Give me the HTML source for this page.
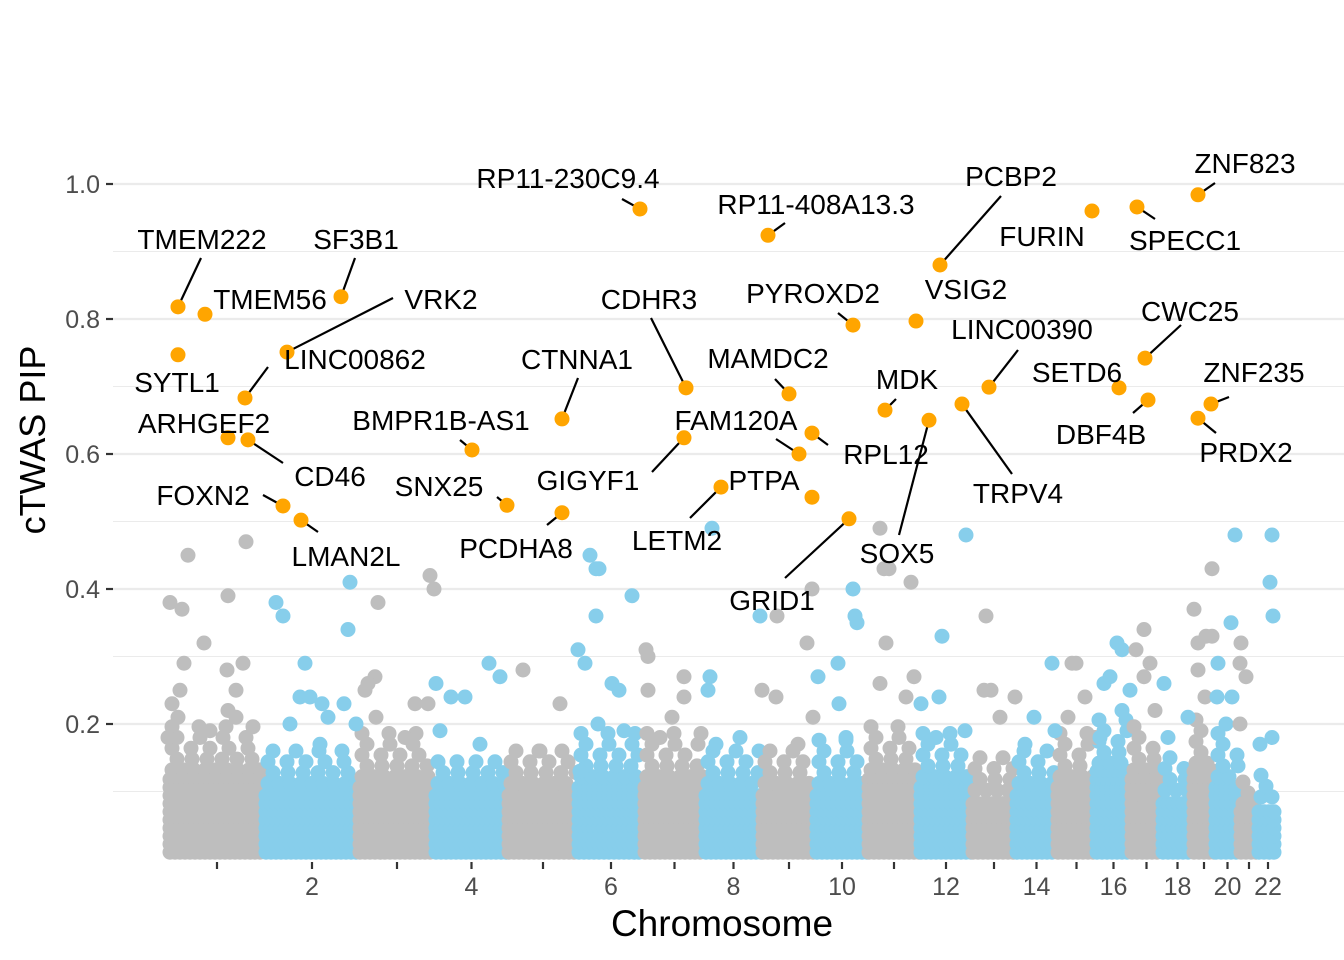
<!DOCTYPE html>
<html><head><meta charset="utf-8"><style>
html,body{margin:0;padding:0;background:#fff;}
svg{display:block;font-family:"Liberation Sans",Arial,sans-serif;}
</style></head><body>
<svg id="chart" width="1344" height="960" viewBox="0 0 1344 960" xmlns="http://www.w3.org/2000/svg">
<g id="grid"></g>
<g id="band"></g>
<g id="scatter"></g>
<g id="lines"></g>
<g id="hits"></g>
<g id="labels"></g>
<g id="axes"></g>
<text transform="translate(45,440) rotate(-90)" text-anchor="middle" font-size="36" fill="#000">cTWAS PIP</text>
<text x="722" y="936" text-anchor="middle" font-size="37" fill="#000">Chromosome</text>
</svg>
<script>
// chromosome starts in genome-index units (cumulative position)
const chrStarts = [0,96,190,266,339,409,475,536,593,647,699,751,803,847,888,927,962,993,1024,1046,1071,1089];
const genomeEnd = 1109;
const chrLabels = ["","2","","4","","6","","8","","10","","12","","14","","16","","18","","20","","22"];
// dense band upper PIP per chromosome
const bandTop = [0.12,0.10,0.11,0.10,0.10,0.11,0.11,0.10,0.10,0.10,0.12,0.11,0.09,0.10,0.11,0.13,0.12,0.09,0.13,0.11,0.07,0.08];
// sparser fringe upper PIP per chromosome
const fringeTop = [0.2,0.17,0.19,0.16,0.17,0.19,0.19,0.17,0.17,0.18,0.2,0.19,0.16,0.17,0.19,0.21,0.2,0.16,0.21,0.19,0.12,0.13];
// scattered background points
const bgPos = [1,13,19,3,11,15,9,35,59,58,74,67,77,59,67,41,-1,
107,114,136,131,141,153,159,175,181,179,187,121,151,
209,206,199,207,196,236,261,265,246,259,
267,282,296,320,331,311,271,
354,391,371,
421,430,427,427,463,409,416,443,450,429,455,411,
477,479,479,515,515,491,503,
543,541,539,571,547,591,593,
608,607,638,643,644,629,
669,684,686,688,649,670,677,
711,715,720,742,717,711,745,737,
797,773,770,752,767,796,
817,815,822,831,846,
883,865,886,856,
903,907,899,916,926,
948,953,935,941,953,931,
975,967,981,975,961,986,
995,1019,999,
1025,1043,1029,1037,1043,1029,1036,
1066,1062,1049,1048,1063,1057,1071,
1071,1077,1072,
1103,1101,1104,1103,1091];
const bgPip = [0.38,0.37,0.45,0.23,0.25,0.29,0.21,0.32,0.39,0.28,0.29,0.25,0.47,0.22,0.21,0.19,0.18,
0.38,0.36,0.29,0.24,0.24,0.23,0.21,0.23,0.41,0.34,0.20,0.20,0.17,
0.38,0.27,0.26,0.21,0.25,0.18,0.42,0.40,0.23,0.23,
0.26,0.24,0.24,0.29,0.27,0.17,0.19,
0.28,0.23,0.16,
0.45,0.43,0.43,0.36,0.39,0.31,0.29,0.26,0.25,0.20,0.19,0.13,
0.31,0.30,0.25,0.27,0.24,0.18,0.21,
0.49,0.27,0.25,0.18,0.17,0.36,0.25,
0.36,0.24,0.32,0.40,0.21,0.17,
0.29,0.40,0.36,0.35,0.27,0.23,0.18,
0.49,0.43,0.43,0.41,0.32,0.26,0.27,0.24,
0.48,0.33,0.24,0.23,0.18,0.19,
0.36,0.25,0.25,0.21,0.24,
0.29,0.21,0.19,0.17,
0.29,0.29,0.21,0.24,0.18,
0.32,0.31,0.26,0.27,0.22,0.18,
0.34,0.31,0.29,0.27,0.25,0.22,
0.26,0.21,0.18,
0.37,0.43,0.28,0.33,0.33,0.32,0.24,
0.48,0.35,0.29,0.24,0.24,0.20,0.20,
0.29,0.27,0.32,
0.48,0.41,0.36,0.18,0.17];
// highlighted genes
const genes = ["TMEM222","TMEM56","SF3B1","VRK2","SYTL1","ARHGEF2","CD46","FOXN2","LMAN2L","LINC00862","BMPR1B-AS1","SNX25","PCDHA8","CTNNA1","RP11-230C9.4","CDHR3","GIGYF1","FAM120A","PTPA","","MAMDC2","RPL12","RP11-408A13.3","PYROXD2","GRID1","MDK","VSIG2","PCBP2","SOX5","TRPV4","LINC00390","FURIN","SPECC1","ZNF823","CWC25","SETD6","DBF4B","ZNF235","PRDX2","LETM2"];
const genePos = [9,36,172,118,9,59,79,114,132,76,303,338,393,393,471,517,515,630,552,643,620,643,599,684,680,716,747,771,760,793,820,923,968,1029,976,950,979,1042,1029,549];
const genePip = [0.818,0.807,0.833,0.751,0.747,0.624,0.621,0.523,0.502,0.683,0.606,0.524,0.513,0.652,0.963,0.698,0.624,0.600,0.551,0.536,0.689,0.631,0.924,0.791,0.504,0.665,0.797,0.880,0.650,0.674,0.699,0.960,0.966,0.984,0.742,0.698,0.680,0.674,0.653,0.551];
const yTicks = [0.2,0.4,0.6,0.8,1.0];
const yTickLabels = ["0.2","0.4","0.6","0.8","1.0"];

// label layout (pixels)
const labelX = [202,270,356,441,177,204,330,203,346,355,441,439,516,577,568,649,588,736,764,0,768,886,816,813,772,907,966,1011,897,1018,1022,1042,1185,1245,1190,1077,1101,1254,1246,677];
const labelY = [249,309,249,309,392,433,486,505,566,369,430,496,558,369,188,309,490,430,490,0,368,464,214,303,610,389,299,186,563,503,339,246,250,173,321,382,444,382,462,550];
const lineX = [201,null,355,393,null,null,283,263,318,268,460,497,547,578,622,651,652,776,null,null,775,828,785,838,785,896,null,1001,899,1012,1018,null,1155,1215,1181,null,1133,1229,1216,690];
const lineY = [258,null,258,298,null,null,463,495,532,367,440,497,525,378,199,318,472,439,null,null,379,445,223,313,578,399,null,196,535,474,350,null,219,183,325,null,413,397,433,518];

const NS="http://www.w3.org/2000/svg";
const xs = p => 169 + p*1.0;
const ys = v => 859 - v*675;
function mk(tag, parent, attrs){const e=document.createElementNS(NS,tag);for(const k in attrs)e.setAttribute(k,attrs[k]);parent.appendChild(e);return e;}
function chrOf(p){let c=0;for(let i=0;i<chrStarts.length;i++){if(p>=chrStarts[i])c=i;}return c;}
const colOf = c => c%2===0 ? "#bebebe" : "#87ceeb";

const grid=document.getElementById('grid');
[0.1,0.3,0.5,0.7,0.9].forEach(v=>{const l=mk('line',grid,{x1:113,x2:1344,y1:ys(v),y2:ys(v),stroke:'#ebebeb','stroke-width':1.1});

});
yTicks.forEach(v=>{const l=mk('line',grid,{x1:113,x2:1344,y1:ys(v),y2:ys(v),stroke:'#ebebeb','stroke-width':2.2});

});

// dense band + fringe
const band=document.getElementById('band');
for(let c=0;c<chrStarts.length;c++){
  const s=chrStarts[c], e=(c+1<chrStarts.length?chrStarts[c+1]:genomeEnd);
  for(let p=s+1;p<=e-1;p+=5){
    for(let v=0.01; v<=bandTop[c]; v+=0.012){
      const d=mk('circle',band,{cx:xs(p),cy:ys(v),r:7.5,fill:colOf(c)});
      
      
    }
  }
  let k=0;
  for(let v=bandTop[c]+0.012; v<=fringeTop[c]; v+=0.016){
    const step = 11 + k*4;
    for(let p=s+3+(k%2)*5; p<=e-2; p+=step){
      const d=mk('circle',band,{cx:xs(p),cy:ys(v),r:7.5,fill:colOf(c)});
      
      
    }
    k++;
  }
}
const sc=document.getElementById('scatter');
bgPos.forEach((p,i)=>{const d=mk('circle',sc,{cx:xs(p),cy:ys(bgPip[i]),r:7.5,fill:colOf(chrOf(p))});

});

const hits=document.getElementById('hits'), lines=document.getElementById('lines'), labs=document.getElementById('labels');
genes.forEach((g,i)=>{
  const cx=xs(genePos[i]), cy=ys(genePip[i]);
  if(i!==genes.length-1){const d=mk('circle',hits,{cx:cx,cy:cy,r:7.5,fill:'#ffa500'});
  
  }
  if(lineX[i]!==null){
    let tx=cx,ty=cy;
    if(i===genes.length-1){tx=xs(genePos[18]);ty=ys(genePip[18]);}
    const l=mk('line',lines,{x1:lineX[i],y1:lineY[i],x2:tx,y2:ty,stroke:'#000','stroke-width':2.2});
    
    
  }
  if(g){const t=mk('text',labs,{x:labelX[i],y:labelY[i],'text-anchor':'middle','font-size':28,fill:'#000'});t.textContent=g;
  
  }
});
mk('circle',lines,{cx:178,cy:357,r:1.5,fill:'#000'});

const ax=document.getElementById('axes');
yTicks.forEach((v,i)=>{
  const l=mk('line',ax,{x1:106,x2:113,y1:ys(v),y2:ys(v),stroke:'#333','stroke-width':2.2});
  
  
  const t=mk('text',ax,{x:100,y:ys(v)+9,'text-anchor':'end','font-size':25,fill:'#4d4d4d'});t.textContent=yTickLabels[i];
  
  
});
chrStarts.forEach((s,c)=>{
  const e=(c+1<chrStarts.length?chrStarts[c+1]:genomeEnd);
  const m=xs((s+e)/2);
  const l=mk('line',ax,{x1:m,x2:m,y1:862,y2:869,stroke:'#333','stroke-width':2.2});
  
  
  if(chrLabels[c]){const t=mk('text',ax,{x:m,y:895,'text-anchor':'middle','font-size':25,fill:'#4d4d4d'});t.textContent=chrLabels[c];
  
  }
});
</script>
</body></html>
